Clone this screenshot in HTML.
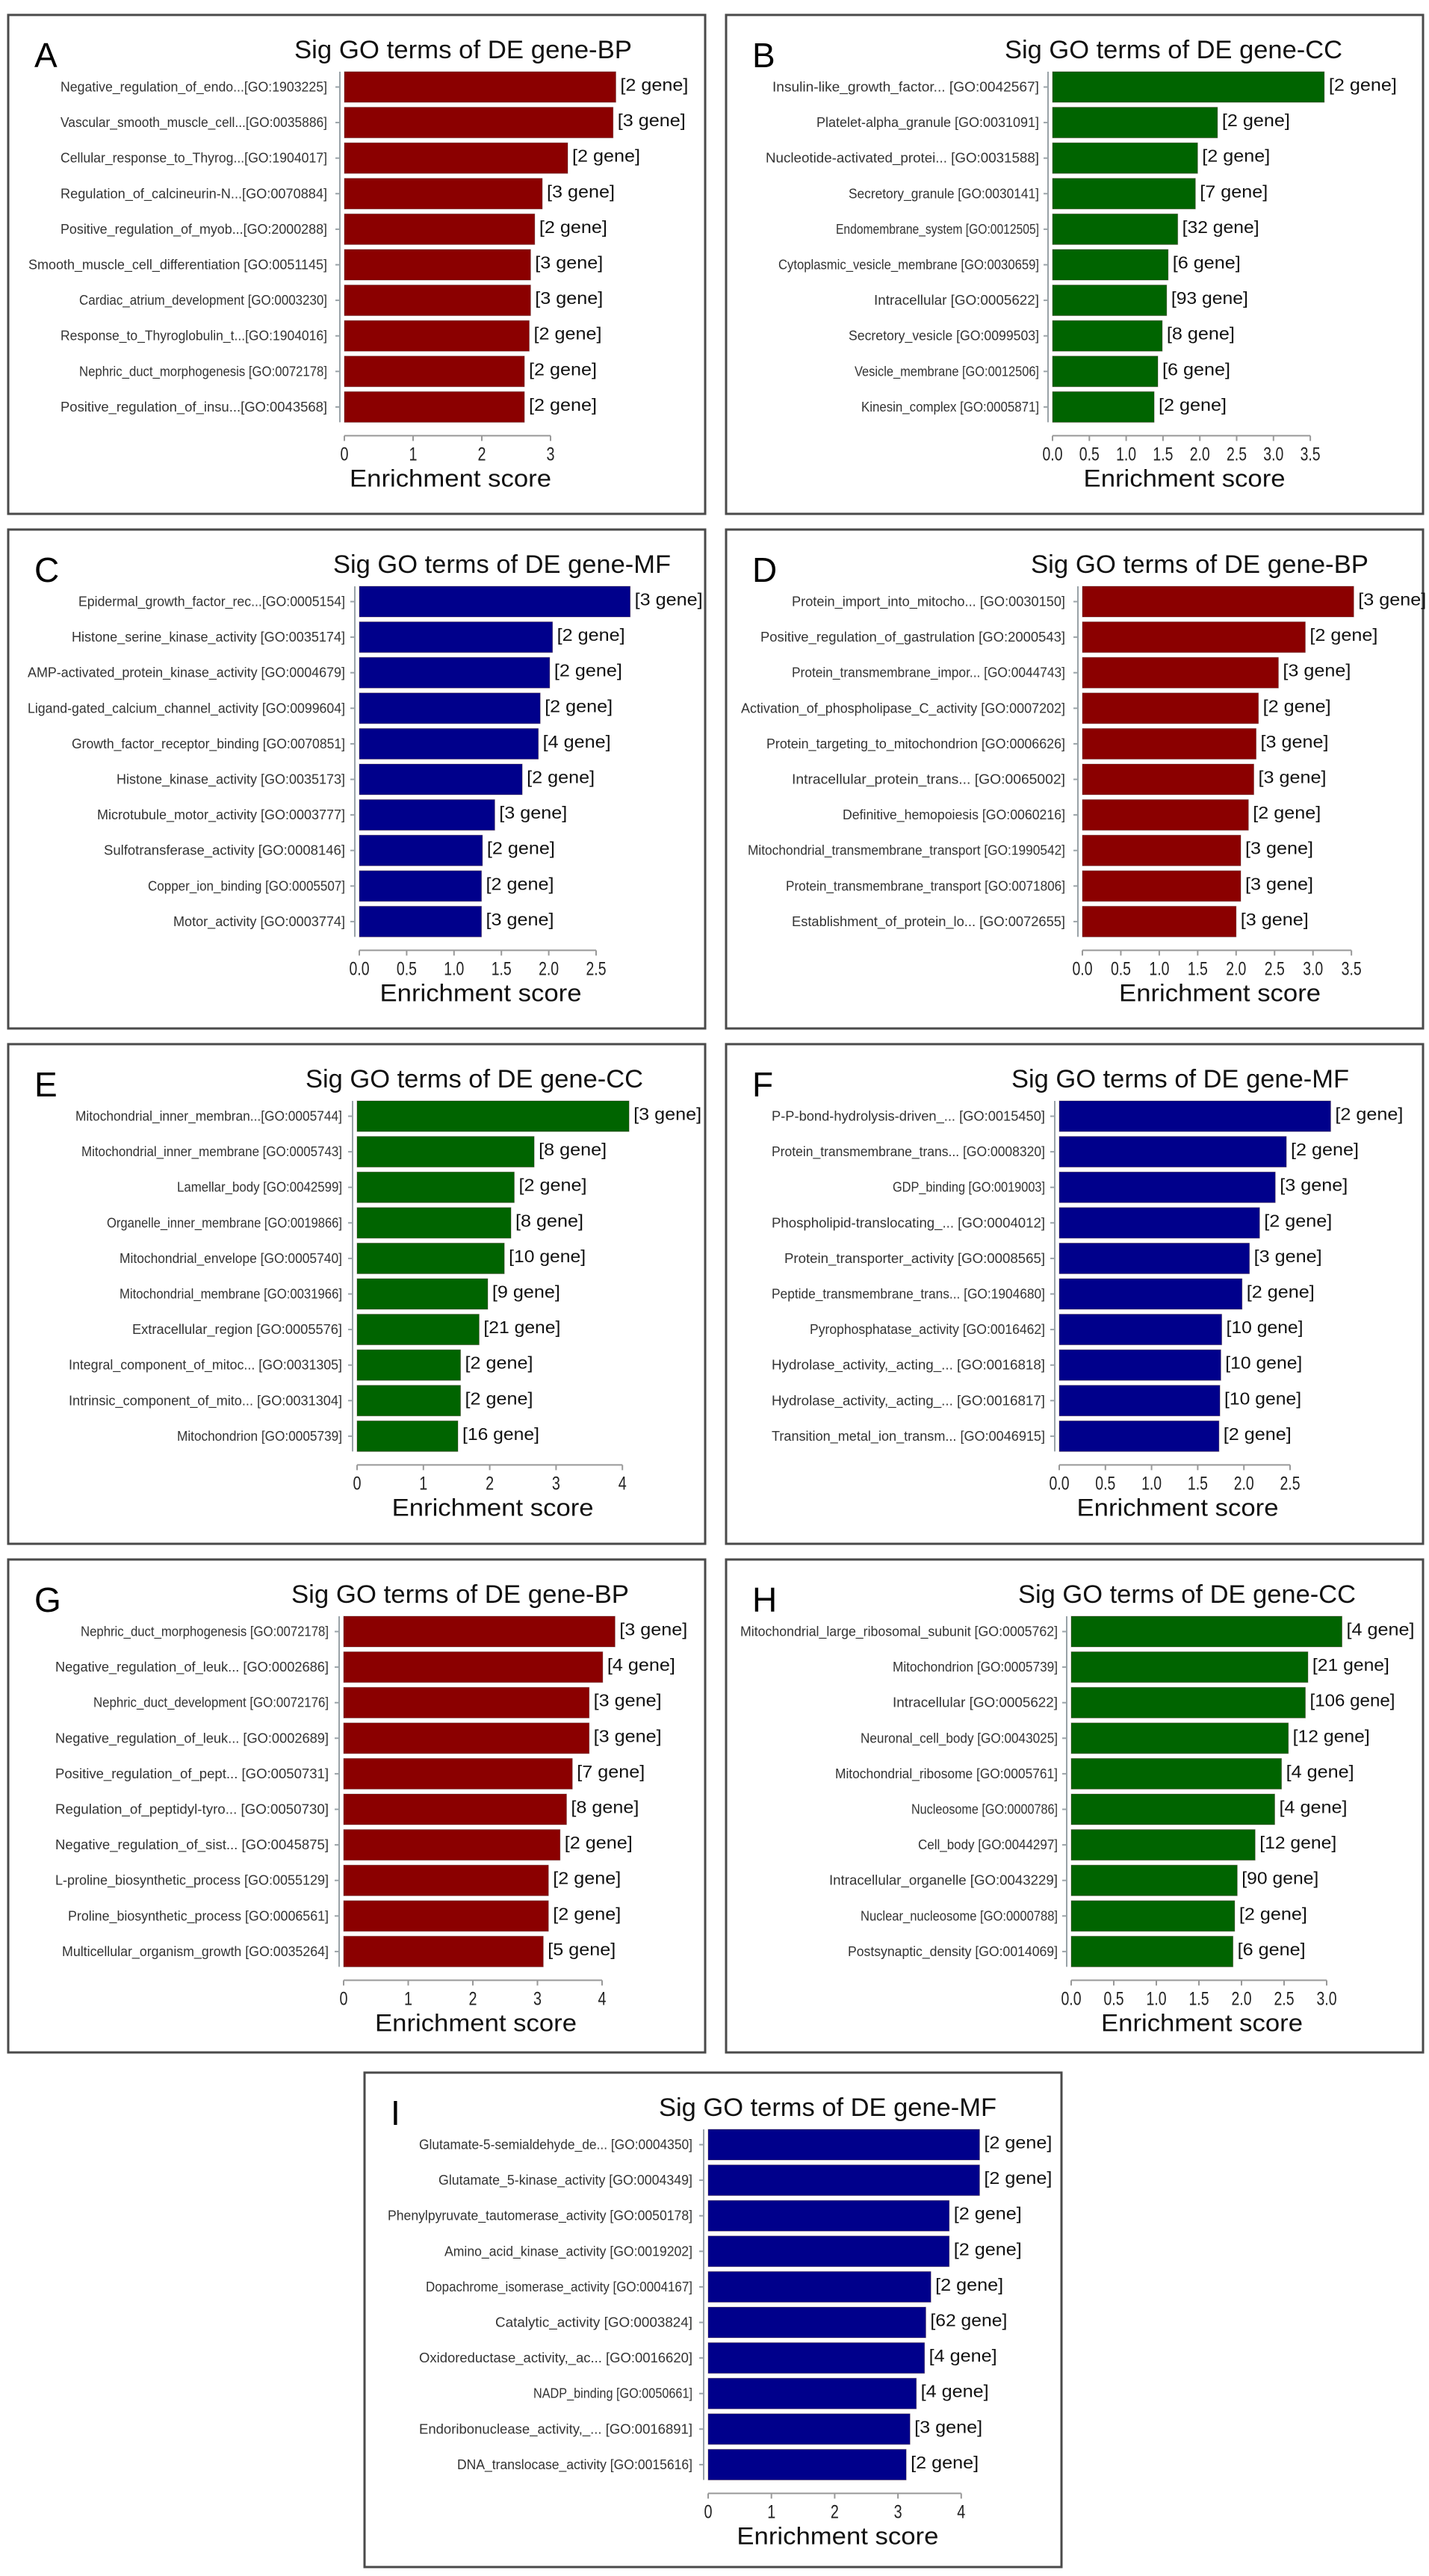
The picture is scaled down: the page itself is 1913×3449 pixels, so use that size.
<!DOCTYPE html>
<html><head><meta charset="utf-8"><style>
html,body{margin:0;padding:0;background:#fff;}
svg{display:block;font-family:"Liberation Sans",Arial,sans-serif;}
</style></head><body>
<svg id="fig" width="1913" height="3449" viewBox="0 0 1913 3449" xmlns="http://www.w3.org/2000/svg"></svg>
<script>
// ---------- Panel A ----------
const aTerms=["Negative_regulation_of_endo...[GO:1903225]","Vascular_smooth_muscle_cell...[GO:0035886]","Cellular_response_to_Thyrog...[GO:1904017]","Regulation_of_calcineurin-N...[GO:0070884]","Positive_regulation_of_myob...[GO:2000288]","Smooth_muscle_cell_differentiation [GO:0051145]","Cardiac_atrium_development [GO:0003230]","Response_to_Thyroglobulin_t...[GO:1904016]","Nephric_duct_morphogenesis [GO:0072178]","Positive_regulation_of_insu...[GO:0043568]"];
const aScores=[3.95,3.91,3.25,2.88,2.77,2.71,2.71,2.69,2.62,2.62];
const aGenes=[2,3,2,3,2,3,3,2,2,2];
const aTicks=["0","1","2","3"];
// ---------- Panel B ----------
const bTerms=["Insulin-like_growth_factor... [GO:0042567]","Platelet-alpha_granule [GO:0031091]","Nucleotide-activated_protei... [GO:0031588]","Secretory_granule [GO:0030141]","Endomembrane_system [GO:0012505]","Cytoplasmic_vesicle_membrane [GO:0030659]","Intracellular [GO:0005622]","Secretory_vesicle [GO:0099503]","Vesicle_membrane [GO:0012506]","Kinesin_complex [GO:0005871]"];
const bScores=[3.69,2.24,1.97,1.94,1.70,1.57,1.55,1.49,1.43,1.38];
const bGenes=[2,2,2,7,32,6,93,8,6,2];
const bTicks=["0.0","0.5","1.0","1.5","2.0","2.5","3.0","3.5"];
// ---------- Panel C ----------
const cTerms=["Epidermal_growth_factor_rec...[GO:0005154]","Histone_serine_kinase_activity [GO:0035174]","AMP-activated_protein_kinase_activity [GO:0004679]","Ligand-gated_calcium_channel_activity [GO:0099604]","Growth_factor_receptor_binding [GO:0070851]","Histone_kinase_activity [GO:0035173]","Microtubule_motor_activity [GO:0003777]","Sulfotransferase_activity [GO:0008146]","Copper_ion_binding [GO:0005507]","Motor_activity [GO:0003774]"];
const cScores=[2.86,2.04,2.01,1.91,1.89,1.72,1.43,1.30,1.29,1.29];
const cGenes=[3,2,2,2,4,2,3,2,2,3];
const cTicks=["0.0","0.5","1.0","1.5","2.0","2.5"];
// ---------- Panel D ----------
const dTerms=["Protein_import_into_mitocho... [GO:0030150]","Positive_regulation_of_gastrulation [GO:2000543]","Protein_transmembrane_impor... [GO:0044743]","Activation_of_phospholipase_C_activity [GO:0007202]","Protein_targeting_to_mitochondrion [GO:0006626]","Intracellular_protein_trans... [GO:0065002]","Definitive_hemopoiesis [GO:0060216]","Mitochondrial_transmembrane_transport [GO:1990542]","Protein_transmembrane_transport [GO:0071806]","Establishment_of_protein_lo... [GO:0072655]"];
const dScores=[3.53,2.90,2.55,2.29,2.26,2.23,2.16,2.06,2.06,2.00];
const dGenes=[3,2,3,2,3,3,2,3,3,3];
const dTicks=["0.0","0.5","1.0","1.5","2.0","2.5","3.0","3.5"];
// ---------- Panel E ----------
const eTerms=["Mitochondrial_inner_membran...[GO:0005744]","Mitochondrial_inner_membrane [GO:0005743]","Lamellar_body [GO:0042599]","Organelle_inner_membrane [GO:0019866]","Mitochondrial_envelope [GO:0005740]","Mitochondrial_membrane [GO:0031966]","Extracellular_region [GO:0005576]","Integral_component_of_mitoc... [GO:0031305]","Intrinsic_component_of_mito... [GO:0031304]","Mitochondrion [GO:0005739]"];
const eScores=[4.10,2.67,2.37,2.32,2.22,1.97,1.84,1.56,1.56,1.52];
const eGenes=[3,8,2,8,10,9,21,2,2,16];
const eTicks=["0","1","2","3","4"];
// ---------- Panel F ----------
const fTerms=["P-P-bond-hydrolysis-driven_... [GO:0015450]","Protein_transmembrane_trans... [GO:0008320]","GDP_binding [GO:0019003]","Phospholipid-translocating_... [GO:0004012]","Protein_transporter_activity [GO:0008565]","Peptide_transmembrane_trans... [GO:1904680]","Pyrophosphatase_activity [GO:0016462]","Hydrolase_activity,_acting_... [GO:0016818]","Hydrolase_activity,_acting_... [GO:0016817]","Transition_metal_ion_transm... [GO:0046915]"];
const fScores=[2.94,2.46,2.34,2.17,2.06,1.98,1.76,1.75,1.74,1.73];
const fGenes=[2,2,3,2,3,2,10,10,10,2];
const fTicks=["0.0","0.5","1.0","1.5","2.0","2.5"];
// ---------- Panel G ----------
const gTerms=["Nephric_duct_morphogenesis [GO:0072178]","Negative_regulation_of_leuk... [GO:0002686]","Nephric_duct_development [GO:0072176]","Negative_regulation_of_leuk... [GO:0002689]","Positive_regulation_of_pept... [GO:0050731]","Regulation_of_peptidyl-tyro... [GO:0050730]","Negative_regulation_of_sist... [GO:0045875]","L-proline_biosynthetic_process [GO:0055129]","Proline_biosynthetic_process [GO:0006561]","Multicellular_organism_growth [GO:0035264]"];
const gScores=[4.20,4.01,3.80,3.80,3.54,3.45,3.35,3.17,3.17,3.09];
const gGenes=[3,4,3,3,7,8,2,2,2,5];
const gTicks=["0","1","2","3","4"];
// ---------- Panel H ----------
const hTerms=["Mitochondrial_large_ribosomal_subunit [GO:0005762]","Mitochondrion [GO:0005739]","Intracellular [GO:0005622]","Neuronal_cell_body [GO:0043025]","Mitochondrial_ribosome [GO:0005761]","Nucleosome [GO:0000786]","Cell_body [GO:0044297]","Intracellular_organelle [GO:0043229]","Nuclear_nucleosome [GO:0000788]","Postsynaptic_density [GO:0014069]"];
const hScores=[3.18,2.78,2.75,2.55,2.47,2.39,2.16,1.95,1.92,1.90];
const hGenes=[4,21,106,12,4,4,12,90,2,6];
const hTicks=["0.0","0.5","1.0","1.5","2.0","2.5","3.0"];
// ---------- Panel I ----------
const iTerms=["Glutamate-5-semialdehyde_de... [GO:0004350]","Glutamate_5-kinase_activity [GO:0004349]","Phenylpyruvate_tautomerase_activity [GO:0050178]","Amino_acid_kinase_activity [GO:0019202]","Dopachrome_isomerase_activity [GO:0004167]","Catalytic_activity [GO:0003824]","Oxidoreductase_activity,_ac... [GO:0016620]","NADP_binding [GO:0050661]","Endoribonuclease_activity,_... [GO:0016891]","DNA_translocase_activity [GO:0015616]"];
const iScores=[4.29,4.29,3.81,3.81,3.52,3.44,3.42,3.29,3.19,3.13];
const iGenes=[2,2,2,2,2,62,4,4,3,2];
const iTicks=["0","1","2","3","4"];

const RED="#8b0000",GREEN="#006400",BLUE="#00008b";
const NS="http://www.w3.org/2000/svg";
const svg=document.getElementById('fig');
function mk(tag,attrs,parent){const e=document.createElementNS(NS,tag);for(const k in attrs)e.setAttribute(k,attrs[k]);(parent||svg).appendChild(e);return e;}

// layout (positions only)
const panels=[
 {id:"a",letter:"A",cat:"BP",x:11,y:20,h:668,lab:427,bar0:450,tickStep:1,unit:92,titleX:609,color:RED,terms:aTerms,scores:aScores,genes:aGenes,ticks:aTicks},
 {id:"b",letter:"B",cat:"CC",x:972,y:20,h:668,lab:419,bar0:437,tickStep:0.5,unit:98.6,titleX:599,color:GREEN,terms:bTerms,scores:bScores,genes:bGenes,ticks:bTicks},
 {id:"c",letter:"C",cat:"MF",x:11,y:709,h:668,lab:451,bar0:470,tickStep:0.5,unit:126.8,titleX:661,color:BLUE,terms:cTerms,scores:cScores,genes:cGenes,ticks:cTicks},
 {id:"d",letter:"D",cat:"BP",x:972,y:709,h:668,lab:454,bar0:477,tickStep:0.5,unit:102.9,titleX:634,color:RED,terms:dTerms,scores:dScores,genes:dGenes,ticks:dTicks},
 {id:"e",letter:"E",cat:"CC",x:11,y:1398,h:669,lab:447,bar0:467,tickStep:1,unit:88.8,titleX:624,color:GREEN,terms:eTerms,scores:eScores,genes:eGenes,ticks:eTicks},
 {id:"f",letter:"F",cat:"MF",x:972,y:1398,h:669,lab:427,bar0:446,tickStep:0.5,unit:123.6,titleX:608,color:BLUE,terms:fTerms,scores:fScores,genes:fGenes,ticks:fTicks},
 {id:"g",letter:"G",cat:"BP",x:11,y:2088,h:660,lab:429,bar0:449,tickStep:1,unit:86.5,titleX:605,color:RED,terms:gTerms,scores:gScores,genes:gGenes,ticks:gTicks},
 {id:"h",letter:"H",cat:"CC",x:972,y:2088,h:660,lab:444,bar0:462,tickStep:0.5,unit:114,titleX:617,color:GREEN,terms:hTerms,scores:hScores,genes:hGenes,ticks:hTicks},
 {id:"i",letter:"I",cat:"MF",x:488,y:2775,h:662,lab:439,bar0:460,tickStep:1,unit:84.7,titleX:620,color:BLUE,terms:iTerms,scores:iScores,genes:iGenes,ticks:iTicks}
];

panels.forEach(p=>{
  const g=mk('g',{transform:`translate(${p.x},${p.y})`});
  
  
  const box=mk('rect',{x:0,y:0,width:933,height:p.h,fill:'#fff',stroke:'#4a4a4a','stroke-width':3},g);
  
  
  const letter=mk('text',{x:35,y:70,'font-size':46,fill:'#000'},g);
  letter.textContent=p.letter;
  
  
  const title=mk('text',{x:p.titleX,y:58,'font-size':34,'text-anchor':'middle',fill:'#111',textLength:452,lengthAdjust:'spacingAndGlyphs'},g);
  title.textContent='Sig GO terms of DE gene-'+p.cat;
  
  
  const bx=v=>p.bar0+v*p.unit;
  const top=76,pitch=47.6,bh=41;
  const n=p.terms.length;
  // y axis
  const ya=mk('line',{x1:p.bar0-6,x2:p.bar0-6,y1:top,y2:top+(n-1)*pitch+bh,stroke:'#9aa3a8','stroke-width':2},g);
  
  
  p.terms.forEach((t,i)=>{
    const cy=top+i*pitch+bh/2;
    const tk=mk('line',{x1:p.bar0-12,x2:p.bar0-6,y1:cy,y2:cy,stroke:'#9aa3a8','stroke-width':2},g);
    
    
    const lb=mk('text',{x:p.lab,y:cy+6,'font-size':18,'text-anchor':'end',fill:'#333',textLength:Math.round(t.length*8.5),lengthAdjust:'spacingAndGlyphs'},g);
    lb.textContent=t;
    
    
    const r=mk('rect',{x:p.bar0,y:top+i*pitch,width:Math.max(0,bx(p.scores[i])-p.bar0),height:bh,fill:p.color,stroke:'#3a1010','stroke-opacity':0.35,'stroke-width':1},g);
    
    
    const gl='['+p.genes[i]+' gene]';
    const gt=mk('text',{x:bx(p.scores[i])+6,y:cy+5,'font-size':23,fill:'#111',textLength:Math.round(gl.length*11.4),lengthAdjust:'spacingAndGlyphs'},g);
    gt.textContent=gl;
    
    
  });
  // x axis
  const ay=top+(n-1)*pitch+bh+18;
  const last=(p.ticks.length-1)*p.tickStep;
  const xa=mk('line',{x1:p.bar0,x2:bx(last),y1:ay,y2:ay,stroke:'#999','stroke-width':2},g);
  
  
  p.ticks.forEach((lbl,k)=>{
    const tx=bx(k*p.tickStep);
    const tl=mk('line',{x1:tx,x2:tx,y1:ay,y2:ay+7,stroke:'#999','stroke-width':2},g);
    
    
    const tt=mk('text',{x:tx,y:ay+33,'font-size':25,'text-anchor':'middle',fill:'#222',textLength:lbl.length>1?27:11,lengthAdjust:'spacingAndGlyphs'},g);
    tt.textContent=lbl;
    
    
  });
  const at=mk('text',{x:p.bar0+(bx(last)-p.bar0)/2+4,y:ay+68,'font-size':32,'text-anchor':'middle',fill:'#111',textLength:270,lengthAdjust:'spacingAndGlyphs'},g);
  at.textContent='Enrichment score';
  
  
});
</script>
</body></html>
